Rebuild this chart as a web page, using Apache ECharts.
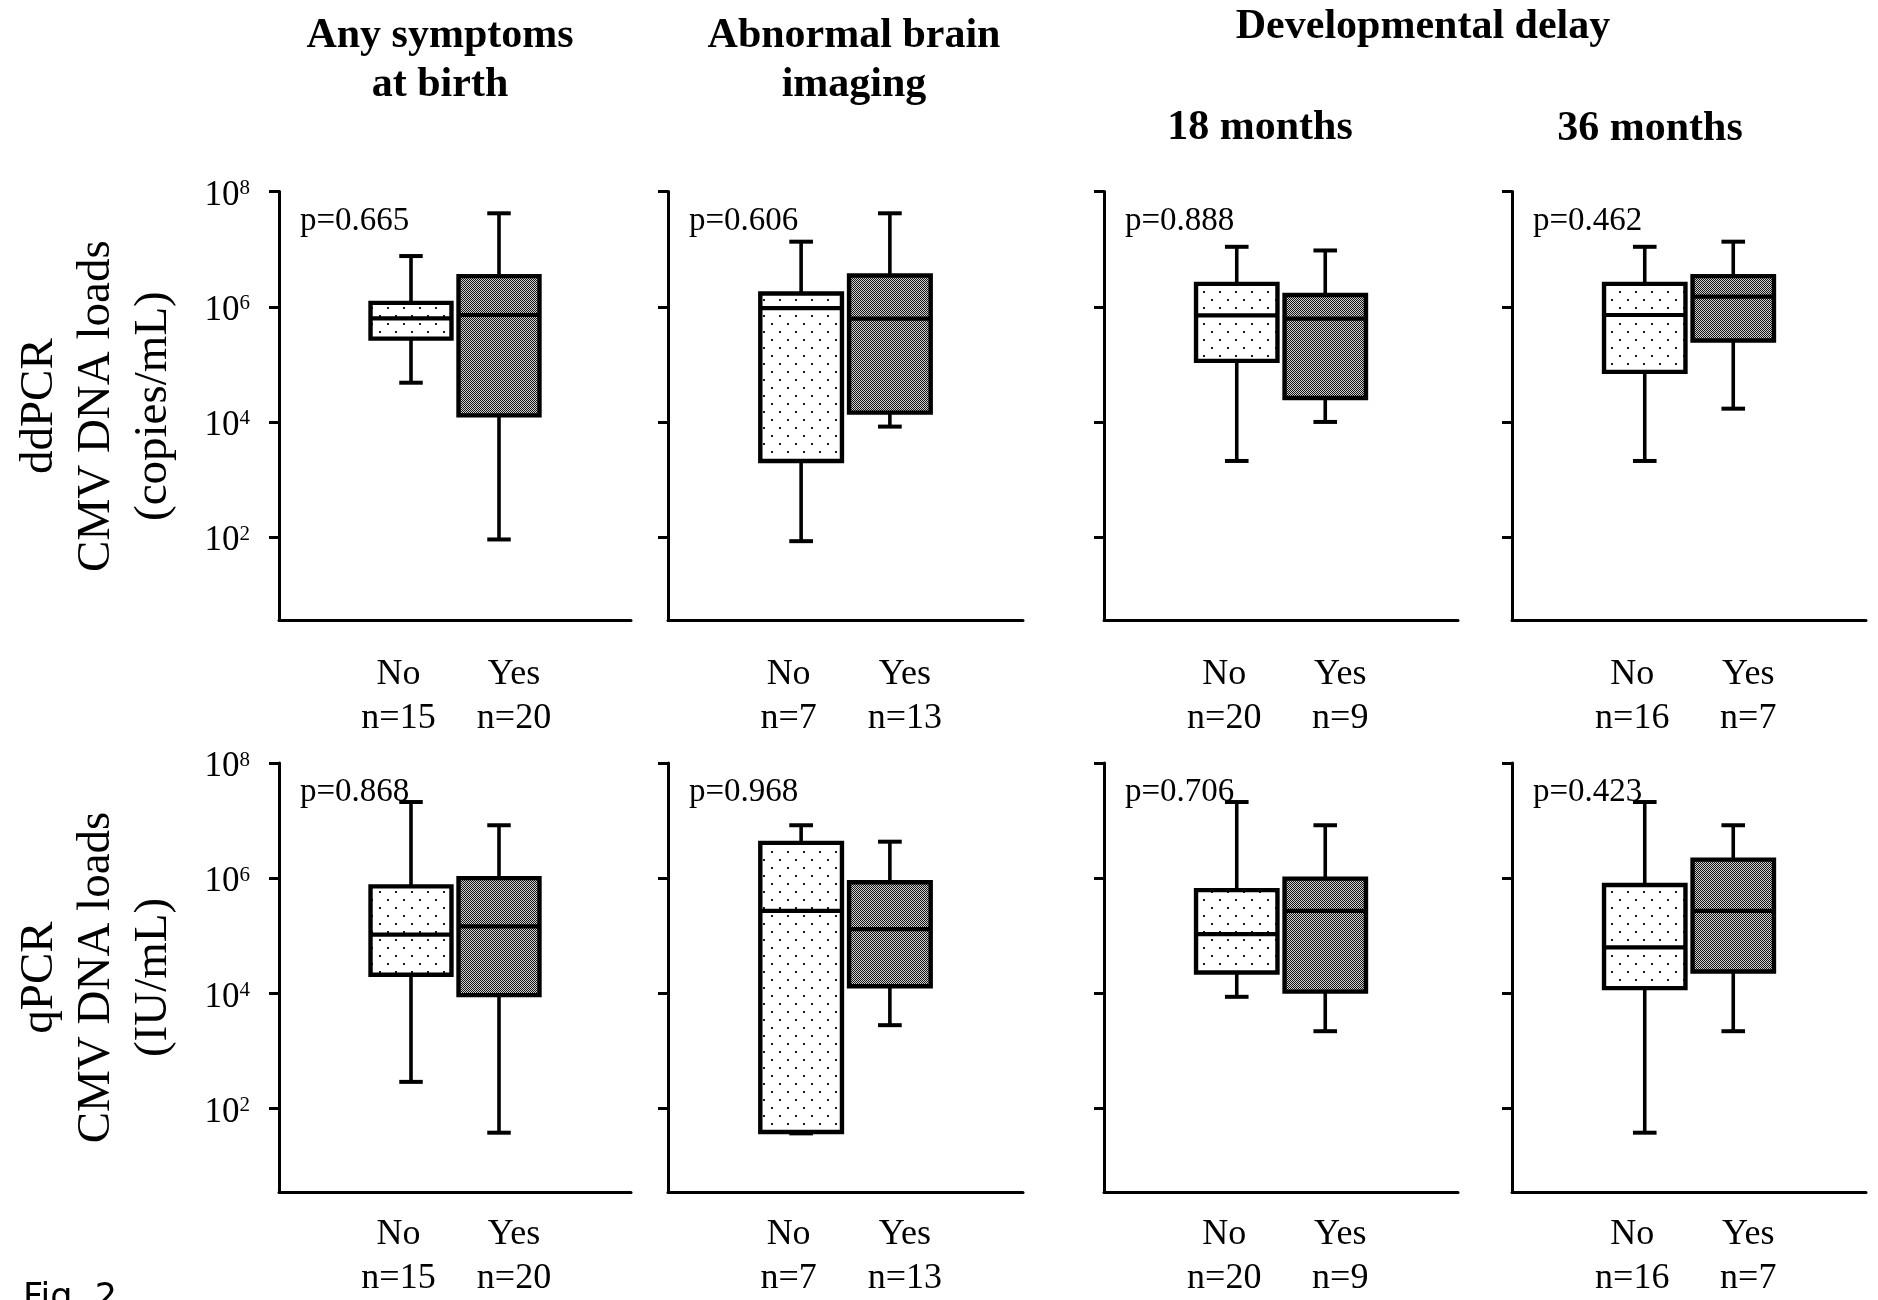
<!DOCTYPE html>
<html>
<head>
<meta charset="utf-8">
<script src="https://cdn.jsdelivr.net/npm/echarts@6/dist/echarts.min.js"></script>
<style>
html,body{margin:0;padding:0;background:#fff;}
#chart{width:1878px;height:1300px;}
</style>
</head>
<body>
<div id="chart"></div>
<script>
// ---------------- DATA ----------------
// Box summaries: [min, Q1, median, Q3, max] (CMV DNA load)
// ddPCR (copies/mL)
const ddSymptomsNo   = [4.8e4, 2.8e5, 6.3e5, 1.17e6, 7.6e6];
const ddSymptomsYes  = [91, 1.3e4, 7.2e5, 3.4e6, 4.2e7];
const ddImagingNo    = [85, 2.1e3, 9.5e5, 1.7e6, 1.35e7];
const ddImagingYes   = [8.3e3, 1.45e4, 6.2e5, 3.5e6, 4.2e7];
const dd18mNo        = [2.1e3, 1.15e5, 7.1e5, 2.5e6, 1.1e7];
const dd18mYes       = [1.0e4, 2.6e4, 6.2e5, 1.6e6, 9.5e6];
const dd36mNo        = [2.1e3, 7.4e4, 7.2e5, 2.5e6, 1.1e7];
const dd36mYes       = [1.7e4, 2.6e5, 1.5e6, 3.4e6, 1.35e7];
// qPCR (IU/mL)
const qSymptomsNo    = [2.9e2, 2.1e4, 1.05e5, 7.2e5, 2.1e7];
const qSymptomsYes   = [38, 9.3e3, 1.45e5, 1.0e6, 8.3e6];
const qImagingNo     = [37, 39, 2.7e5, 4.1e6, 8.3e6];
const qImagingYes    = [2.8e3, 1.33e4, 1.3e5, 8.5e5, 4.3e6];
const q18mNo         = [8.7e3, 2.3e4, 1.07e5, 6.2e5, 2.1e7];
const q18mYes        = [2.2e3, 1.07e4, 2.7e5, 9.8e5, 8.3e6];
const q36mNo         = [38, 1.23e4, 6.3e4, 7.6e5, 2.1e7];
const q36mYes        = [2.2e3, 2.4e4, 2.7e5, 2.1e6, 8.3e6];

const groupLabels = ['No', 'Yes'];
const nNo  = [15, 7, 20, 16];
const nYes = [20, 13, 9, 7];
const pTop    = ['p=0.665', 'p=0.606', 'p=0.888', 'p=0.462'];
const pBottom = ['p=0.868', 'p=0.968', 'p=0.706', 'p=0.423'];
const yTickExponents = [2, 4, 6, 8];
const rowNames = ['ddPCR\nCMV DNA loads\n(copies/mL)', 'qPCR\nCMV DNA loads\n(IU/mL)'];

// ---------------- LAYOUT ----------------
const SERIF = '"Liberation Serif", "Times New Roman", serif';
const gridLefts  = [279, 668, 1104, 1512];
const gridWidths = [352, 355, 354, 354];
const rowTops = [191.6, 763];
const rowHeight = 429;
const labelMargins = [32, 21];
const yMinExp = 0.55, yMaxExp = 8;

const rows = [
  [[ddSymptomsNo, ddSymptomsYes], [ddImagingNo, ddImagingYes], [dd18mNo, dd18mYes], [dd36mNo, dd36mYes]],
  [[qSymptomsNo, qSymptomsYes], [qImagingNo, qImagingYes], [q18mNo, q18mYes], [q36mNo, q36mYes]]
];

function makeDots() {
  const c = document.createElement('canvas');
  c.width = 16; c.height = 16;
  const g = c.getContext('2d');
  g.fillStyle = '#ffffff'; g.fillRect(0, 0, 16, 16);
  g.fillStyle = '#1a1a1a';
  g.fillRect(3, 3, 2, 2);
  g.fillRect(11, 11, 2, 2);
  return c;
}
function makeChecker() {
  const c = document.createElement('canvas');
  c.width = 2; c.height = 2;
  const g = c.getContext('2d');
  g.fillStyle = '#cfcfcf'; g.fillRect(0, 0, 2, 2);
  g.fillStyle = '#151515';
  g.fillRect(0, 0, 1, 1);
  g.fillRect(1, 1, 1, 1);
  return c;
}
const dotPattern = { image: makeDots(), repeat: 'repeat' };
const checkerPattern = { image: makeChecker(), repeat: 'repeat' };

const grids = [], xAxes = [], yAxes = [], series = [], graphics = [];

rows.forEach((row, r) => {
  row.forEach((pair, c) => {
    const idx = r * 4 + c;
    grids.push({ left: gridLefts[c], top: rowTops[r], width: gridWidths[c], height: rowHeight });
    xAxes.push({
      type: 'category', gridIndex: idx,
      data: ['_l', groupLabels[0], groupLabels[1], '_r'],
      axisLine: { lineStyle: { color: '#000', width: 3 } },
      axisTick: { show: false },
      axisLabel: {
        interval: 0, margin: labelMargins[r], color: '#000',
        formatter: (v) => {
          if (v === groupLabels[0]) return '{l|' + v + '}\n{l|n=' + nNo[c] + '}';
          if (v === groupLabels[1]) return '{y|' + v + '}\n{y|n=' + nYes[c] + '}';
          return '';
        },
        rich: {
          l: { fontFamily: SERIF, fontSize: 36, lineHeight: 44, color: '#000', padding: [0, 25, 0, 0] },
          y: { fontFamily: SERIF, fontSize: 36, lineHeight: 44, color: '#000', padding: [0, 0, 0, 30] }
        }
      }
    });
    yAxes.push({
      type: 'value', gridIndex: idx, min: yMinExp, max: yMaxExp,
      splitLine: { show: false },
      axisLine: { show: true, lineStyle: { color: '#000', width: 3 } },
      axisTick: { show: true, length: 10, customValues: yTickExponents, lineStyle: { color: '#000', width: 3 } },
      axisLabel: {
        show: c === 0, customValues: yTickExponents, margin: 29, padding: [8, 0, 0, 0],
        formatter: (v) => '{b|10}{s|' + v + '}',
        rich: {
          b: { fontFamily: SERIF, fontSize: 35, color: '#000' },
          s: { fontFamily: SERIF, fontSize: 21, color: '#000', verticalAlign: 'top' }
        }
      },
      name: c === 0 ? rowNames[r] : '',
      nameLocation: 'middle', nameRotate: 90, nameGap: 97,
      nameTextStyle: { fontFamily: SERIF, fontSize: 47, lineHeight: 57, color: '#000', align: 'center' }
    });
    const data = pair.map((vals, k) => [k + 1].concat(vals.map(v => Math.log10(v))));
    series.push({
      type: 'custom', xAxisIndex: idx, yAxisIndex: idx,
      encode: { x: 0, y: [1, 2, 3, 4, 5] },
      data: data,
      z: 3,
      renderItem: (params, api) => {
        const xi = api.value(0);
        const pMin = api.coord([xi, api.value(1)]);
        const pQ1 = api.coord([xi, api.value(2)]);
        const pMed = api.coord([xi, api.value(3)]);
        const pQ3 = api.coord([xi, api.value(4)]);
        const pMax = api.coord([xi, api.value(5)]);
        const band = api.size([1, 0])[0];
        const half = band * 0.46;
        const cap = half * 0.29;
        const x = pMin[0];
        const ls = { stroke: '#000', lineWidth: 3.6 };
        return {
          type: 'group',
          children: [
            { type: 'line', shape: { x1: x, y1: pMax[1], x2: x, y2: pQ3[1] }, style: ls },
            { type: 'line', shape: { x1: x, y1: pQ1[1], x2: x, y2: pMin[1] }, style: ls },
            { type: 'line', shape: { x1: x - cap, y1: pMax[1], x2: x + cap, y2: pMax[1] }, style: { stroke: '#000', lineWidth: 4 } },
            { type: 'line', shape: { x1: x - cap, y1: pMin[1], x2: x + cap, y2: pMin[1] }, style: { stroke: '#000', lineWidth: 4 } },
            { type: 'rect', shape: { x: x - half, y: pQ3[1], width: half * 2, height: pQ1[1] - pQ3[1] },
              style: { fill: xi === 1 ? dotPattern : checkerPattern, stroke: '#000', lineWidth: 4.4 } },
            { type: 'line', shape: { x1: x - half, y1: pMed[1], x2: x + half, y2: pMed[1] }, style: { stroke: '#000', lineWidth: 4.2 } }
          ]
        };
      }
    });
    const ptxt = r === 0 ? pTop[c] : pBottom[c];
    graphics.push({
      type: 'text', left: gridLefts[c] + 21, top: rowTops[r] + 13, z: 2,
      style: { text: ptxt, font: '33px ' + SERIF, fill: '#000' }
    });
  });
});

// Titles
const titleFont = 'bold 42px ' + SERIF;
const titles = [
  ['Any symptoms', 440, 36], ['at birth', 440, 85],
  ['Abnormal brain', 854, 36], ['imaging', 854, 85],
  ['Developmental delay', 1423, 27],
  ['18 months', 1260, 128], ['36 months', 1650, 129]
];
titles.forEach(t => {
  graphics.push({
    type: 'text', x: t[1], y: t[2],
    style: { text: t[0], font: titleFont, fill: '#000', textAlign: 'center', textVerticalAlign: 'middle' }
  });
});
graphics.push({
  type: 'text', x: 23, y: 1281,
  style: { text: 'Fig. 2', font: '35px "DejaVu Sans", sans-serif', fill: '#000', textAlign: 'left', textVerticalAlign: 'top' }
});

const chart = echarts.init(document.getElementById('chart'), null, { renderer: 'canvas' });
chart.setOption({
  backgroundColor: '#ffffff',
  animation: false,
  grid: grids,
  xAxis: xAxes,
  yAxis: yAxes,
  series: series,
  graphic: graphics
});
</script>
</body>
</html>
